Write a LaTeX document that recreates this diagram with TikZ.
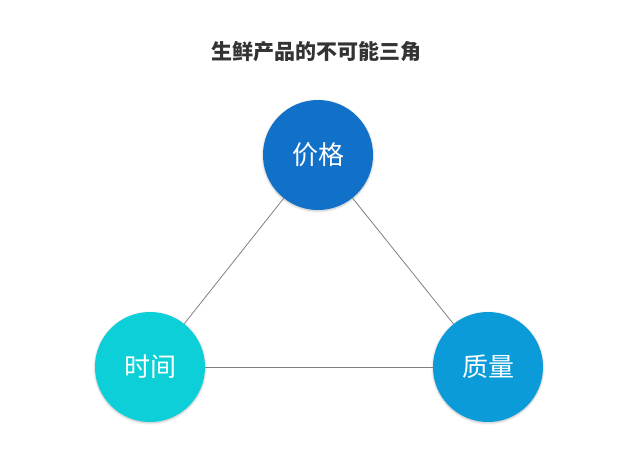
\documentclass[tikz,border=0pt]{standalone}
\usepackage{fontspec}
\setmainfont{Noto Sans CJK SC}
\usetikzlibrary{shadows.blur}
\definecolor{priceblue}{HTML}{1170C8}
\definecolor{timecyan}{HTML}{0DCFD8}
\definecolor{qualblue}{HTML}{0A9BD8}
\definecolor{titlegray}{HTML}{333333}
\tikzset{
  corner/.style={circle, minimum size=110pt, inner sep=0pt, text=white,
    font=\fontsize{26}{30}\selectfont, blur shadow={shadow blur steps=6, shadow xshift=0pt, shadow yshift=-1pt, shadow opacity=25}},
  edge/.style={draw=gray, line width=0.8pt}
}
\begin{document}
\begin{tikzpicture}[x=1pt, y=-1pt]
  \useasboundingbox (0,0) rectangle (629,463);
  % Title
  \node (title) at (316,52) {\fontsize{21}{25}\selectfont\bfseries\color{titlegray}生鲜产品的不可能三角};
  % Triangle corners
  \node[corner, fill=priceblue] (price) at (318,155) {价格};
  \node[corner, fill=timecyan] (time) at (150,367) {时间};
  \node[corner, fill=qualblue] (quality) at (488,367) {质量};
  % Sides
  \begin{scope}[on background layer/.style={}]
  \draw[edge] (price) -- (time);
  \draw[edge] (time) -- (quality);
  \draw[edge] (quality) -- (price);
  \end{scope}
\end{tikzpicture}
\end{document}
